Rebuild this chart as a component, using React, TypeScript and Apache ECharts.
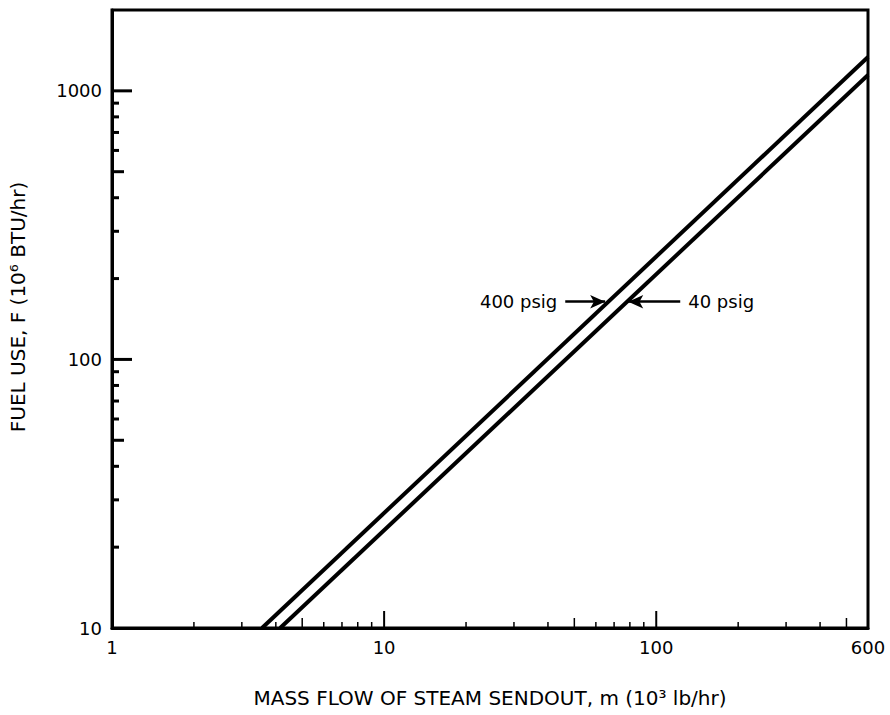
import React, { useEffect, useRef } from "react";
import * as echarts from "echarts";

// Data (log-log)
const highPressureX = [3.56, 600]; // 400 psig
const highPressureY = [10, 1336];
const lowPressureX = [4.15, 600]; // 40 psig
const lowPressureY = [10, 1145];

const xLabelValues = [1, 10, 100, 600];
const yLabelValues = [10, 100, 1000];
const xMajorTicks = [10, 100];
const xMediumTicks = [5, 50, 500];
const xMinorTicks = [2, 3, 4, 6, 7, 8, 9, 20, 30, 40, 60, 70, 80, 90, 200, 300, 400];
const yMajorTicks = [100, 1000];
const yMediumTicks = [50, 500];
const yMinorTicks = [20, 30, 40, 60, 70, 80, 90, 200, 300, 400, 600, 700, 800, 900];

const annotationY = 164;
const arrow400 = [46.3, 64.9]; // from, to (x values)
const arrow40 = [122.5, 78.9];

const X_MIN = 1, X_MAX = 600, Y_MIN = 10, Y_MAX = 2000;

export default function App() {
  const ref = useRef<HTMLDivElement>(null);
  useEffect(() => {
    if (!ref.current) return;
    const chart = echarts.init(ref.current, null, { renderer: "svg" });
    const font = "DejaVu Sans";
    const xTicks = [
      ...xMajorTicks.map((v) => [v, 2]),
      ...xMediumTicks.map((v) => [v, 1]),
      ...xMinorTicks.map((v) => [v, 0]),
    ];
    const yTicks = [
      ...yMajorTicks.map((v) => [v, 2]),
      ...yMediumTicks.map((v) => [v, 1]),
      ...yMinorTicks.map((v) => [v, 0]),
    ];
    const xLen = [6, 10, 17];
    const yLen = [7, 12, 20];
    const arrowMark = (label: string, from: number, to: number) => ({
      silent: true,
      symbol: ["none", "arrow"],
      symbolSize: [10, 15],
      lineStyle: { color: "#000", width: 2.5, type: "solid" },
      label: {
        show: true,
        position: "start",
        distance: 8,
        formatter: label,
        fontFamily: font,
        fontSize: 18,
        color: "#000",
      },
      data: [[{ coord: [from, annotationY] }, { coord: [to, annotationY] }]],
    });
    chart.setOption({
      animation: false,
      backgroundColor: "#fff",
      grid: {
        left: 112,
        right: 22,
        top: 10,
        bottom: 87,
        show: true,
        borderColor: "#000",
        borderWidth: 3,
        backgroundColor: "transparent",
      },
      xAxis: {
        type: "log",
        logBase: 10,
        min: X_MIN,
        max: X_MAX,
        name: "MASS FLOW OF STEAM SENDOUT, m (10³ lb/hr)",
        nameLocation: "middle",
        nameGap: 60,
        nameTextStyle: { fontFamily: font, fontSize: 20, color: "#000" },
        axisLine: { lineStyle: { color: "#000", width: 3 } },
        axisTick: { show: false },
        splitLine: { show: false },
        axisLabel: {
          fontFamily: font,
          fontSize: 18,
          color: "#000",
          margin: 10,
          showMinLabel: true,
          showMaxLabel: true,
          formatter: (v: number) => {
            const r = Math.round(v);
            return xLabelValues.includes(r) ? String(r) : "";
          },
        },
      },
      yAxis: {
        type: "log",
        logBase: 10,
        min: Y_MIN,
        max: Y_MAX,
        name: "FUEL USE, F (10⁶ BTU/hr)",
        nameLocation: "middle",
        nameGap: 84,
        nameTextStyle: {
          fontFamily: font,
          fontSize: 20,
          color: "#000",
          padding: [0, 0, 0, 24],
        },
        axisLine: { lineStyle: { color: "#000", width: 3 } },
        axisTick: { show: false },
        splitLine: { show: false },
        axisLabel: {
          fontFamily: font,
          fontSize: 18,
          color: "#000",
          margin: 10,
          formatter: (v: number) => {
            const r = Math.round(v);
            return yLabelValues.includes(r) ? String(r) : "";
          },
        },
      },
      series: [
        {
          name: "400 psig",
          type: "line",
          data: highPressureX.map((x, i) => [x, highPressureY[i]]),
          showSymbol: false,
          lineStyle: { color: "#000", width: 4 },
          markLine: arrowMark("400 psig", arrow400[0], arrow400[1]),
        },
        {
          name: "40 psig",
          type: "line",
          data: lowPressureX.map((x, i) => [x, lowPressureY[i]]),
          showSymbol: false,
          lineStyle: { color: "#000", width: 4 },
          markLine: arrowMark("40 psig", arrow40[0], arrow40[1]),
        },
        {
          type: "custom",
          silent: true,
          data: xTicks,
          renderItem: (params: any, api: any) => {
            const v = api.value(0);
            const k = api.value(1);
            const p = api.coord([v, Y_MIN]);
            return {
              type: "line",
              shape: { x1: p[0], y1: p[1], x2: p[0], y2: p[1] - xLen[k] },
              style: { stroke: "#000", lineWidth: k === 2 ? 2 : 1.5 },
            };
          },
        },
        {
          type: "custom",
          silent: true,
          data: yTicks.map((t) => [X_MIN, t[0], t[1]]),
          renderItem: (params: any, api: any) => {
            const v = api.value(1);
            const k = api.value(2);
            const p = api.coord([X_MIN, v]);
            return {
              type: "line",
              shape: { x1: p[0], y1: p[1], x2: p[0] + yLen[k], y2: p[1] },
              style: { stroke: "#000", lineWidth: 3 },
            };
          },
        },
      ],
    });
    return () => chart.dispose();
  }, []);
  return (
    <div
      ref={ref}
      style={{ position: "fixed", left: 0, top: 0, width: 890, height: 715 }}
    />
  );
}
